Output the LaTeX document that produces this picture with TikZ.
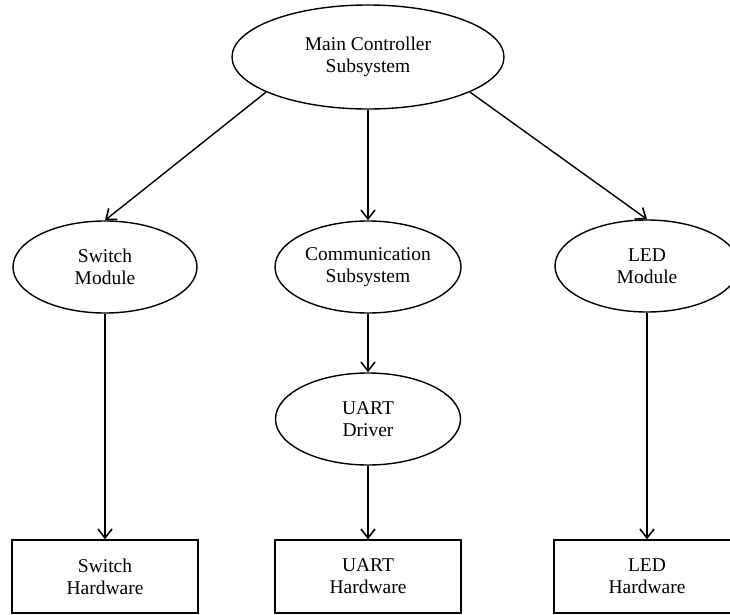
\documentclass[tikz,border=0pt]{standalone}
\usepackage{fontspec}
\setmainfont{Liberation Serif}
\usetikzlibrary{shapes.geometric,arrows.meta}
\begin{document}
\begin{tikzpicture}[x=1pt,y=-1pt,
  every node/.style={font=\fontsize{19.5}{22}\selectfont, align=center, text=black},
  oval/.style={draw, line width=1.4pt, ellipse, inner sep=0pt, minimum width=184pt, minimum height=92pt},
  hwbox/.style={draw, line width=1.4pt, rectangle, inner sep=0pt, minimum width=186pt, minimum height=73pt},
  link/.style={draw, line width=1.4pt, -{Straight Barb[length=9pt,width=14pt,line width=1.6pt]}}
]
\clip (0,0) rectangle (730,615);
\useasboundingbox (0,0) rectangle (730,615);
\node[oval, minimum width=272pt, minimum height=104pt] (main) at (368,57) {Main Controller\\Subsystem};
\node[oval] (sw) at (105,267) {Switch\\Module};
\node[oval, minimum width=186pt] (comm) at (368,267) {Communication\\Subsystem};
\node[oval] (led) at (647,266) {LED\\Module};
\node[oval, minimum width=185pt] (uart) at (368,419) {UART\\Driver};
\node[hwbox] (swhw) at (105,576.5) {Switch\\Hardware};
\node[hwbox] (uarthw) at (368,576.5) {UART\\Hardware};
\node[hwbox] (ledhw) at (647,576.5) {LED\\Hardware};
\draw[link] (main.199.5) -- (sw.north);
\draw[link] (main.south) -- (comm.north);
\draw[link] (main.341) -- (led.north);
\draw[link] (comm.south) -- (uart.north);
\draw[link] (sw.south) -- (swhw.north);
\draw[link] (uart.south) -- (uarthw.north);
\draw[link] (led.south) -- (ledhw.north);
\end{tikzpicture}
\end{document}
